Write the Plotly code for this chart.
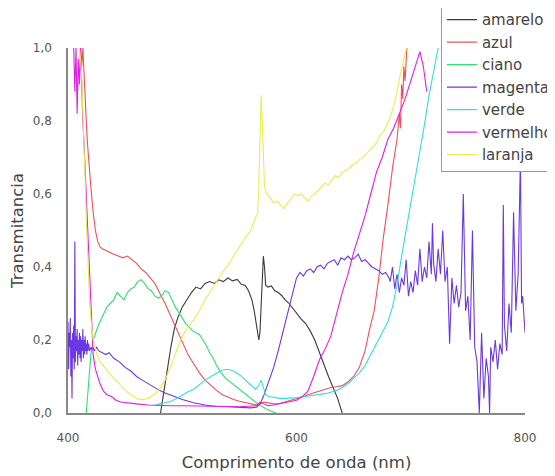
import plotly.graph_objects as go

# ---------------- data ----------------
amarelo_x = [481, 484, 487, 490, 493, 496, 500, 504, 508, 512, 516, 520, 524, 528, 532, 536, 540, 544, 548, 552,
             555, 558, 561, 563, 565, 566, 567, 568, 569, 570, 571, 572, 573, 575, 578, 581, 584, 587, 590, 593,
             596, 600, 604, 608, 612, 616, 620, 624, 628, 632, 636, 640]
amarelo_y = [0.0, 0.06, 0.13, 0.18, 0.23, 0.26, 0.29, 0.31, 0.33, 0.345, 0.34, 0.355, 0.36, 0.355, 0.365, 0.36, 0.37, 0.362, 0.366, 0.352,
             0.35, 0.335, 0.31, 0.28, 0.245, 0.22, 0.20, 0.22, 0.30, 0.38, 0.43, 0.40, 0.35, 0.345, 0.348, 0.335, 0.33, 0.322, 0.31, 0.302,
             0.29, 0.272, 0.258, 0.245, 0.225, 0.20, 0.165, 0.135, 0.10, 0.07, 0.04, 0.0]

azul_x = [411, 412, 413, 414, 415, 416, 417, 418, 420, 422, 424, 426, 428, 430, 433, 436, 440, 444, 448, 452,
          456, 460, 464, 468, 472, 476, 480, 485, 490, 495, 500, 505, 510, 515, 520, 525, 530, 535, 540, 545,
          550, 555, 560, 565, 568, 571, 575, 580, 585, 590, 595, 600, 605, 610, 615, 620, 625, 630, 635, 640,
          645, 650, 655, 660, 664, 668, 672, 676, 680, 684, 688, 690, 691, 692, 693, 694, 695, 696, 697]
azul_y = [1.0, 0.95, 1.0, 0.92, 0.85, 0.80, 0.74, 0.69, 0.62, 0.55, 0.50, 0.47, 0.455, 0.45, 0.445, 0.44, 0.435, 0.43, 0.425, 0.43,
          0.42, 0.41, 0.395, 0.385, 0.37, 0.355, 0.33, 0.30, 0.265, 0.23, 0.19, 0.16, 0.135, 0.11, 0.09, 0.075, 0.062, 0.05, 0.043, 0.037,
          0.032, 0.028, 0.024, 0.022, 0.025, 0.03, 0.028, 0.025, 0.026, 0.03, 0.034, 0.038, 0.044, 0.05, 0.055, 0.06, 0.065, 0.07, 0.072, 0.075,
          0.085, 0.10, 0.125, 0.17, 0.23, 0.28, 0.37, 0.48, 0.57, 0.67, 0.75, 0.82, 0.78, 0.90, 0.86, 0.95, 0.91, 1.0, 1.02]

ciano_x = [416, 417, 418, 419, 420, 422, 424, 426, 428, 431, 434, 437, 440, 443, 446, 449, 452, 455, 458, 461,
           464, 467, 470, 473, 476, 479, 482, 485, 488, 491, 494, 497, 500, 503, 506, 509, 512, 515, 518, 521,
           524, 527, 530, 534, 538, 542, 546, 550, 554, 558, 562, 566, 570, 574, 578, 582]
ciano_y = [0.0, 0.04, 0.09, 0.13, 0.16, 0.2, 0.22, 0.235, 0.25, 0.27, 0.29, 0.30, 0.31, 0.33, 0.32, 0.31, 0.33, 0.34, 0.345, 0.36,
           0.365, 0.355, 0.34, 0.335, 0.32, 0.315, 0.32, 0.335, 0.33, 0.31, 0.29, 0.275, 0.26, 0.245, 0.235, 0.225, 0.22, 0.215, 0.2, 0.185,
           0.165, 0.15, 0.13, 0.11, 0.095, 0.085, 0.075, 0.065, 0.055, 0.045, 0.035, 0.025, 0.018, 0.01, 0.005, 0.0]

magenta_x = [400, 400.5, 401, 401.5, 402, 402.5, 403, 403.5, 404, 404.5, 405, 405.5, 406, 406.5, 407, 407.5, 408, 408.5, 409, 409.5,
             410, 410.5, 411, 411.5, 412, 412.5, 413, 413.5, 414, 414.5, 415, 415.5, 416, 416.5, 417, 417.5, 418, 419, 420, 421,
             422, 423, 424, 425, 427, 430, 433, 436, 440, 445, 450, 455, 460, 465, 470, 475, 480, 485, 490, 495,
             500, 505, 510, 520, 530, 540, 550, 560, 565, 568, 571, 575, 580, 584, 588, 591, 594, 597, 600, 603,
             606, 609, 612, 615, 618, 621, 624, 627, 630, 633, 636, 639, 642, 645, 648, 651, 654, 657, 660, 663,
             666, 669, 672, 675, 678, 681, 682, 684, 686, 688, 690, 692, 694, 696, 698, 700, 702, 704, 706, 708,
             710, 712, 714, 716, 718, 719, 720, 722, 724, 726, 728, 730, 732, 734, 736, 738, 740, 742, 744, 746,
             748, 750, 752, 754, 756, 758, 760, 762, 764, 766, 768, 769, 770, 772, 774, 776, 778, 780, 781, 782,
             784, 786, 788, 790, 792, 794, 796, 797, 798, 800]
magenta_y = [0.25, 0.12, 0.22, 0.18, 0.26, 0.10, 0.20, 0.04, 0.22, 0.15, 0.24, 0.12, 0.47, 0.14, 0.21, 0.17, 0.23, 0.13, 0.20, 0.16,
             0.22, 0.15, 0.21, 0.14, 0.20, 0.17, 0.23, 0.15, 0.20, 0.16, 0.21, 0.17, 0.19, 0.16, 0.20, 0.17, 0.19, 0.17, 0.18, 0.175,
             0.18, 0.17, 0.175, 0.18, 0.17, 0.165, 0.16, 0.165, 0.15, 0.14, 0.125, 0.115, 0.10, 0.09, 0.08, 0.07, 0.062, 0.055, 0.048, 0.043,
             0.037, 0.032, 0.028, 0.022, 0.018, 0.017, 0.015, 0.014, 0.016, 0.025, 0.045, 0.08, 0.125, 0.17, 0.22, 0.26, 0.30, 0.34, 0.37, 0.385,
             0.375, 0.39, 0.395, 0.385, 0.40, 0.405, 0.395, 0.41, 0.415, 0.42, 0.405, 0.425, 0.42, 0.43, 0.42, 0.425, 0.435, 0.415, 0.42, 0.41,
             0.40, 0.395, 0.39, 0.38, 0.385, 0.37, 0.36, 0.40, 0.34, 0.38, 0.33, 0.37, 0.35, 0.42, 0.32, 0.36, 0.33, 0.39, 0.35, 0.45,
             0.36, 0.40, 0.37, 0.47, 0.38, 0.52, 0.41, 0.36, 0.45, 0.38, 0.50, 0.36, 0.40, 0.19, 0.37, 0.30, 0.35, 0.29, 0.33, 0.60,
             0.28, 0.32, 0.20, 0.50, 0.18, 0.14, 0.0, 0.22, 0.04, 0.15, 0.10, 0.0, 0.18, 0.14, 0.20, 0.12, 0.19, 0.16, 0.57, 0.24,
             0.17, 0.30, 0.22, 0.55, 0.28, 0.38, 0.70, 0.30, 0.32, 0.22]

verde_x = [476, 480, 485, 490, 495, 500, 505, 510, 515, 520, 525, 530, 535, 540, 545, 550, 555, 560, 564, 567,
           569, 571, 573, 576, 580, 585, 590, 595, 600, 605, 610, 615, 620, 625, 630, 635, 640, 645, 650, 655,
           660, 665, 670, 675, 680, 684, 688, 692, 696, 700, 704, 708, 712, 716, 720, 724]
verde_y = [0.02, 0.025, 0.028, 0.032, 0.04, 0.05, 0.058, 0.065, 0.078, 0.09, 0.10, 0.11, 0.118, 0.12, 0.115, 0.105, 0.09, 0.075, 0.065, 0.075,
           0.09, 0.07, 0.05, 0.045, 0.042, 0.04, 0.04, 0.04, 0.042, 0.044, 0.046, 0.048, 0.05, 0.053, 0.057, 0.062, 0.07, 0.08, 0.095, 0.11,
           0.13, 0.16, 0.19, 0.22, 0.25, 0.29, 0.35, 0.43, 0.50, 0.57, 0.64, 0.71, 0.79, 0.87, 0.94, 1.0]

vermelho_x = [405, 406, 407, 408, 409, 410, 411, 412, 413, 414, 415, 416, 417, 418, 419, 420, 422, 424, 426, 428,
              431, 434, 438, 442, 446, 450, 460, 470, 480, 490, 500, 510, 520, 530, 540, 550, 560, 565, 568, 571,
              575, 580, 585, 590, 595, 600, 605, 610, 615, 620, 625, 630, 635, 640, 645, 650, 655, 660, 665, 670,
              675, 680, 685, 690, 695, 700, 704, 708, 711, 714]
vermelho_y = [1.0, 0.88, 1.0, 0.82, 0.97, 0.90, 1.0, 0.86, 0.80, 0.74, 0.67, 0.58, 0.50, 0.45, 0.37, 0.30, 0.16, 0.12, 0.10, 0.08,
              0.06, 0.05, 0.045, 0.035, 0.03, 0.028, 0.025, 0.022, 0.02, 0.02, 0.02, 0.02, 0.02, 0.018, 0.018, 0.017, 0.018, 0.02, 0.03, 0.025,
              0.02, 0.022, 0.025, 0.028, 0.032, 0.035, 0.045, 0.06, 0.10, 0.145, 0.175, 0.21, 0.27, 0.33, 0.38, 0.44, 0.49, 0.54, 0.60, 0.66,
              0.70, 0.75, 0.78, 0.82, 0.86, 0.91, 0.95, 0.99, 0.95, 0.88]

laranja_x = [410, 411, 412, 413, 414, 415, 416, 417, 418, 419, 420, 422, 425, 428, 432, 436, 440, 445, 450, 455,
             460, 465, 470, 475, 480, 485, 490, 495, 500, 505, 510, 515, 520, 525, 530, 535, 540, 545, 550, 555,
             560, 564, 566, 567, 568, 569, 570, 571, 572, 574, 577, 580, 583, 586, 589, 592, 595, 598, 601, 604,
             607, 610, 613, 616, 619, 622, 625, 628, 631, 634, 637, 640, 643, 646, 649, 652, 655, 658, 661, 664,
             667, 670, 673, 676, 679, 682, 685, 688, 691, 694, 697]
laranja_y = [1.0, 0.97, 0.92, 0.84, 0.75, 0.64, 0.53, 0.44, 0.37, 0.30, 0.26, 0.20, 0.165, 0.14, 0.125, 0.11, 0.095, 0.08, 0.062, 0.05,
             0.04, 0.036, 0.04, 0.05, 0.065, 0.09, 0.13, 0.17, 0.21, 0.235, 0.255, 0.28, 0.31, 0.335, 0.36, 0.385, 0.405, 0.43, 0.455, 0.48,
             0.50, 0.53, 0.55, 0.62, 0.75, 0.87, 0.80, 0.68, 0.62, 0.60, 0.59, 0.575, 0.58, 0.57, 0.56, 0.575, 0.585, 0.60, 0.595, 0.60,
             0.59, 0.58, 0.595, 0.60, 0.61, 0.62, 0.63, 0.625, 0.64, 0.65, 0.645, 0.66, 0.665, 0.67, 0.68, 0.685, 0.695, 0.70, 0.71, 0.72,
             0.73, 0.74, 0.76, 0.77, 0.79, 0.81, 0.84, 0.88, 0.93, 0.97, 1.01]

series = [
    ("amarelo", amarelo_x, amarelo_y, "#3a3a3a"),
    ("azul", azul_x, azul_y, "#f0505a"),
    ("ciano", ciano_x, ciano_y, "#2ee070"),
    ("magenta", magenta_x, magenta_y, "#6a3ae0"),
    ("verde", verde_x, verde_y, "#30e0e0"),
    ("vermelho", vermelho_x, vermelho_y, "#e020e0"),
    ("laranja", laranja_x, laranja_y, "#e8ee50"),
]

x_ticks = [400, 600, 800]
y_ticks = [0.0, 0.2, 0.4, 0.6, 0.8, 1.0]

fig = go.Figure()
for name, xs, ys, col in series:
    fig.add_trace(go.Scatter(x=xs, y=ys, mode="lines", name=name,
                             line=dict(color=col, width=1.1)))

FONT = "DejaVu Sans"
fig.update_layout(
    width=555, height=476,
    margin=dict(l=60, r=38, t=40, b=71, autoexpand=False),
    paper_bgcolor="white", plot_bgcolor="white",
    separators=",.",
    font=dict(family=FONT, color="#444"),
    showlegend=True,
    legend=dict(x=0.816, y=1.125, xanchor="left", yanchor="top",
                bgcolor="white", bordercolor="#999", borderwidth=1,
                font=dict(size=15, color="#444"), tracegroupgap=0),
    xaxis=dict(range=[400, 800], tickvals=x_ticks, showgrid=False, zeroline=False,
               showline=True, linecolor="#888", linewidth=1.5,
               ticks="outside", ticklen=13, tickcolor="rgba(0,0,0,0)",
               tickfont=dict(size=12, color="#555"),
               title=dict(text="Comprimento de onda (nm)", font=dict(size=16.5, color="#444"), standoff=12)),
    yaxis=dict(range=[0, 1.0], tickvals=y_ticks, tickformat=".1f", showgrid=False, zeroline=False,
               showline=True, linecolor="#888", linewidth=1.5,
               ticks="outside", ticklen=12, tickcolor="rgba(0,0,0,0)",
               tickfont=dict(size=12, color="#555"),
               title=dict(text="Transmitancia", font=dict(size=16.5, color="#444"), standoff=8)),
)

fig.write_html("out.html")
